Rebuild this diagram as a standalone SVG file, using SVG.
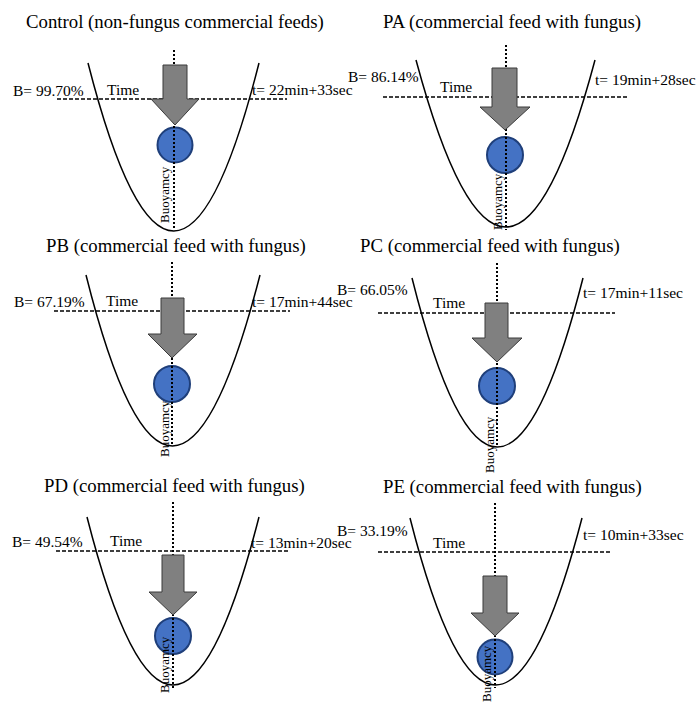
<svg xmlns="http://www.w3.org/2000/svg" width="696" height="703" viewBox="0 0 696 703" font-family="'Liberation Serif', Tinos, 'Times New Roman', Times, 'DejaVu Serif', serif">
<style>
text{font-family:'Liberation Serif',Tinos,'Times New Roman',Times,'DejaVu Serif',serif;fill:#000}
.title{font-size:18.8px}
.lbl{font-size:15.5px}
.buoy{font-size:13px}
.bowl{fill:none;stroke:#000;stroke-width:1.5}
.dash{stroke:#000;stroke-width:1.3;stroke-dasharray:4 2;fill:none}
.dot{stroke:#000;stroke-width:2;stroke-dasharray:2 2;fill:none}
.arrow{fill:#808080;stroke:#3a3a3a;stroke-width:1}
.ball{fill:#4472C4;stroke:#1F3F7A;stroke-width:2}
</style>
<rect width="696" height="703" fill="#fff"/>

<g id="control">
<text class="title" x="26" y="28">Control (non-fungus commercial feeds)</text>
<path class="bowl" d="M88,63 Q174,399 259,63"/>
<line class="dash" x1="57" y1="99" x2="287" y2="99"/>
<circle class="ball" cx="175" cy="145" r="17.5"/>
<line class="dot" x1="174" y1="50" x2="174" y2="230"/>
<polygon class="arrow" points="163,65 187,65 187,99 199,99 175,125 151,99 163,99"/>
<text class="lbl" x="13" y="96">B= 99.70%</text>
<text class="lbl" x="107" y="95">Time</text>
<text class="lbl" x="252" y="95">t= 22min+33sec</text>
<text class="buoy" transform="translate(169,223) rotate(-90)">Buoyamcy</text>
</g>

<g id="pa">
<text class="title" x="383" y="28">PA (commercial feed with fungus)</text>
<path class="bowl" d="M416,60 Q506,394 595,60"/>
<line class="dash" x1="383" y1="97" x2="627" y2="97"/>
<circle class="ball" cx="505" cy="155" r="18"/>
<line class="dot" x1="506" y1="45" x2="506" y2="230"/>
<polygon class="arrow" points="492,68 517,68 517,107 530,107 505,130 480,107 492,107"/>
<text class="lbl" x="348" y="82">B= 86.14%</text>
<text class="lbl" x="440" y="92">Time</text>
<text class="lbl" x="595" y="85">t= 19min+28sec</text>
<text class="buoy" transform="translate(502,230) rotate(-90)">Buoyamcy</text>
</g>

<g id="pb">
<text class="title" x="46" y="252">PB (commercial feed with fungus)</text>
<path class="bowl" d="M86,275 Q172,617 260,275"/>
<line class="dash" x1="54" y1="311" x2="290" y2="311"/>
<circle class="ball" cx="172" cy="384" r="18"/>
<line class="dot" x1="172" y1="262" x2="172" y2="445"/>
<polygon class="arrow" points="161,298 184,298 184,334 197,334 172,358 148,334 161,334"/>
<text class="lbl" x="14" y="307">B= 67.19%</text>
<text class="lbl" x="106" y="306">Time</text>
<text class="lbl" x="252" y="307">t= 17min+44sec</text>
<text class="buoy" transform="translate(169,457) rotate(-90)">Buoyamcy</text>
</g>

<g id="pc">
<text class="title" x="360" y="252">PC (commercial feed with fungus)</text>
<path class="bowl" d="M412,278 Q497,616 583,278"/>
<line class="dash" x1="378" y1="313" x2="615" y2="313"/>
<circle class="ball" cx="497" cy="386" r="18"/>
<line class="dot" x1="497" y1="263" x2="497" y2="447"/>
<polygon class="arrow" points="485,303 508,303 508,338 522,338 497,362 472,338 485,338"/>
<text class="lbl" x="337" y="295">B= 66.05%</text>
<text class="lbl" x="433" y="308">Time</text>
<text class="lbl" x="583" y="298">t= 17min+11sec</text>
<text class="buoy" transform="translate(494,473) rotate(-90)">Buoyamcy</text>
</g>

<g id="pd">
<text class="title" x="44" y="492">PD (commercial feed with fungus)</text>
<path class="bowl" d="M87,517 Q173,853 259,517"/>
<line class="dash" x1="56" y1="551" x2="290" y2="551"/>
<circle class="ball" cx="173" cy="636" r="18"/>
<line class="dot" x1="173" y1="502" x2="173" y2="690"/>
<polygon class="arrow" points="162,555 184,555 184,592 197,592 173,615 149,592 162,592"/>
<text class="lbl" x="12" y="547">B= 49.54%</text>
<text class="lbl" x="110" y="546">Time</text>
<text class="lbl" x="251" y="548">t= 13min+20sec</text>
<text class="buoy" transform="translate(169,693) rotate(-90)">Buoyamcy</text>
</g>

<g id="pe">
<text class="title" x="383" y="493">PE (commercial feed with fungus)</text>
<path class="bowl" d="M410,518 Q495,852 582,518"/>
<line class="dash" x1="378" y1="552" x2="612" y2="552"/>
<circle class="ball" cx="495" cy="657" r="17.5"/>
<line class="dot" x1="495" y1="503" x2="495" y2="688"/>
<polygon class="arrow" points="483,576 507,576 507,613 519,613 495,636 471,613 483,613"/>
<text class="lbl" x="337" y="536">B= 33.19%</text>
<text class="lbl" x="433" y="548">Time</text>
<text class="lbl" x="583" y="540">t= 10min+33sec</text>
<text class="buoy" transform="translate(491,702) rotate(-90)">Buoyamcy</text>
</g>
</svg>
